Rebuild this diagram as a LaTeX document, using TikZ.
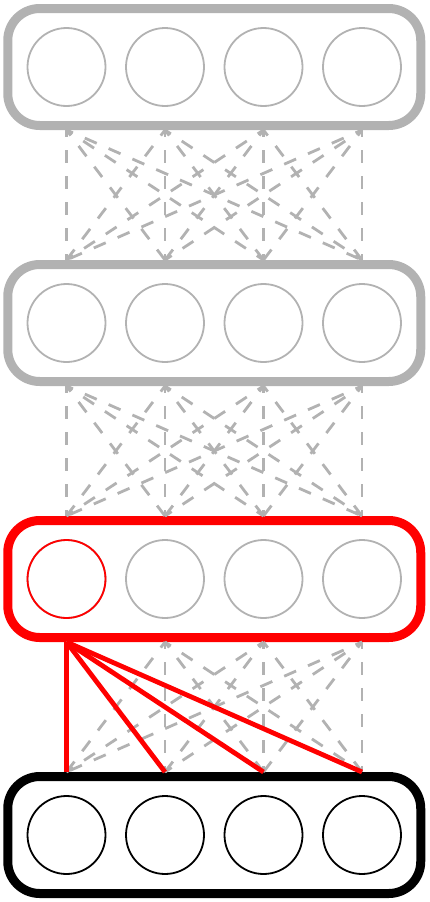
\documentclass[tikz,border=0pt]{standalone}
\begin{document}
\begin{tikzpicture}[x=1pt,y=-1pt,
  layerbox/.style={draw,rounded corners=32pt,line width=9pt,minimum width=413pt,minimum height=117pt,inner sep=0pt},
  unit/.style={draw,circle,line width=1.8pt,minimum size=78pt,inner sep=0pt},
  dashline/.style={draw=black!30,line width=2.8pt,dash pattern=on 13pt off 13pt,dash phase=6pt},
  redline/.style={draw=red,line width=4.8pt}
]
\useasboundingbox (0,0) rectangle (429,902);
\foreach \l/\y/\col in {1/67/black!30,2/323/black!30,3/579/red,4/835/black}{
  \node[layerbox,draw=\col] (b\l) at (214.25,\y) {};
}
\foreach \l/\y/\col in {1/67/black!30,2/323/black!30,3/579/black!30,4/835/black}{
  \foreach \i/\x in {1/66.5,2/165,3/263.5,4/362}{
    \node[unit,draw=\col] (c\l\i) at (\x,\y) {};
  }
}
\node[unit,draw=red] at (c31) {};
\foreach \u/\d in {1/2,2/3,3/4}{
  \foreach \a in {1,2,3,4}{
    \foreach \b in {1,2,3,4}{
      \draw[dashline] (c\u\a |- b\u.south) -- (c\d\b |- b\d.north);
    }
  }
}
\foreach \b in {1,2,3,4}{
  \draw[redline] (c31 |- b3.south) -- (c4\b |- b4.north);
}
\end{tikzpicture}
\end{document}
